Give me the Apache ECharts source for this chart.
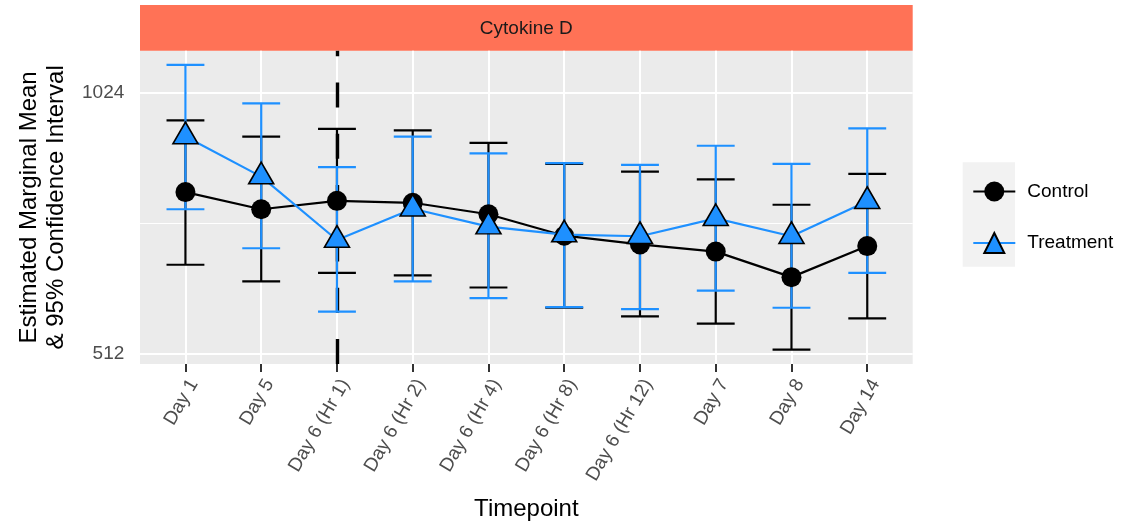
<!DOCTYPE html>
<html>
<head>
<meta charset="utf-8">
<script src="https://cdn.jsdelivr.net/npm/echarts@6/dist/echarts.min.js"></script>
<style>
  html, body { margin: 0; padding: 0; background: #ffffff; }
  #chart { width: 1137px; height: 526px; }
</style>
</head>
<body>
<div id="chart"></div>
<script>
// Timepoints on the x axis
const categories = ['Day 1', 'Day 5', 'Day 6 (Hr 1)', 'Day 6 (Hr 2)', 'Day 6 (Hr 4)',
  'Day 6 (Hr 8)', 'Day 6 (Hr 12)', 'Day 7', 'Day 8', 'Day 14'];

// Estimated marginal means with 95% CI bounds, Control group
const controlMean  = [787, 752, 769, 765, 742, 701, 685, 672, 628, 682];
const controlLower = [649, 621, 635, 631, 611, 579, 566, 555, 518, 563];
const controlUpper = [952, 912, 931, 927, 897, 848, 831, 814, 761, 826];

// Estimated marginal means with 95% CI bounds, Treatment group
const treatMean  = [912, 820, 693, 753, 718, 703, 700, 734, 700, 768];
const treatLower = [752, 678, 573, 621, 594, 580, 577, 606, 579, 635];
const treatUpper = [1103, 996, 841, 912, 872, 850, 846, 890, 848, 932];

// Labelled y breaks (log2 scale) and the minor break between them
const yBreaks = [512, 1024];
const yMinorBreaks = [724.08];

// Timepoint marked by the dashed reference line
const markedTimepoint = 'Day 6 (Hr 1)';

const FONT = '"Liberation Sans", Arial, Helvetica, sans-serif';
const BLACK = '#000000';
const BLUE = '#1E90FF';

const idx = categories.map((_, i) => i);
const yMin = 498.7, yMax = 1145.4;

function errorBars(name, lower, upper, color, z) {
  return {
    type: 'custom',
    name: name,
    z: z,
    silent: true,
    data: lower.map((l, i) => [i, l, upper[i]]),
    encode: { x: 0, y: [1, 2] },
    renderItem: function (params, api) {
      const i = api.value(0);
      const hi = api.coord([i, api.value(2)]);
      const lo = api.coord([i, api.value(1)]);
      const xl = api.coord([i - 0.25, api.value(2)])[0];
      const xr = api.coord([i + 0.25, api.value(2)])[0];
      const seg = (x1, y1, x2, y2) => ({
        type: 'line',
        shape: { x1: x1, y1: y1, x2: x2, y2: y2 },
        style: { stroke: color, lineWidth: 2.2, fill: null }
      });
      return {
        type: 'group',
        children: [
          seg(hi[0], hi[1], lo[0], lo[1]),
          seg(xl, hi[1], xr, hi[1]),
          seg(xl, lo[1], xr, lo[1])
        ]
      };
    }
  };
}

const gridLines = [];
idx.forEach(i => gridLines.push({ xAxis: i, lineStyle: { color: '#ffffff', width: 2, type: 'solid' } }));
yBreaks.forEach(v => gridLines.push({ yAxis: v, lineStyle: { color: '#ffffff', width: 2, type: 'solid' } }));
yMinorBreaks.forEach(v => gridLines.push({ yAxis: v, lineStyle: { color: '#ffffff', width: 1, type: 'solid' } }));

const chart = echarts.init(document.getElementById('chart'), null, { renderer: 'canvas' });

chart.setOption({
  animation: false,
  textStyle: { fontFamily: FONT },
  grid: {
    left: 140, right: 224.3, top: 50.7, bottom: 159.3,
    show: true, backgroundColor: '#EBEBEB', borderWidth: 0
  },
  graphic: [
    { type: 'rect', left: 140, top: 5, shape: { width: 772.7, height: 45.7 }, style: { fill: '#FF7256' }, silent: true },
    { type: 'text', x: 526.3, y: 28.5, style: { text: 'Cytokine D', fill: '#1A1A1A', font: '19px ' + FONT, align: 'center', verticalAlign: 'middle' }, silent: true },
    { type: 'rect', left: 962.7, top: 162.3, shape: { width: 52.3, height: 104.4 }, style: { fill: '#F2F2F2' }, silent: true, z: -1 }
  ],
  legend: {
    orient: 'vertical',
    left: 967.3,
    top: 176.5,
    itemWidth: 42,
    itemHeight: 25,
    itemGap: 30.5,
    selectedMode: false,
    data: ['Control', 'Treatment'],
    textStyle: { fontSize: 19, color: '#000000', fontFamily: FONT, padding: [0, 0, 0, 7] }
  },
  xAxis: {
    type: 'value',
    min: -0.6,
    max: 9.6,
    axisLine: { show: false },
    splitLine: { show: false },
    axisTick: { show: true, length: 8, lineStyle: { color: '#333333', width: 2 }, customValues: idx },
    axisLabel: {
      customValues: idx,
      formatter: v => categories[Math.round(v)],
      rotate: 60,
      align: 'right',
      verticalAlign: 'top',
      margin: 12,
      fontSize: 19,
      color: '#4D4D4D',
      fontFamily: FONT
    },
    name: 'Timepoint',
    nameLocation: 'middle',
    nameGap: 133,
    nameTextStyle: { fontSize: 24, color: '#000000', fontFamily: FONT }
  },
  yAxis: {
    type: 'log',
    logBase: 2,
    min: yMin,
    max: yMax,
    axisLine: { show: false },
    splitLine: { show: false },
    minorSplitLine: { show: false },
    axisTick: { show: true, length: 8, lineStyle: { color: '#333333', width: 2 }, customValues: yBreaks },
    axisLabel: {
      customValues: yBreaks,
      formatter: v => String(Math.round(v)),
      margin: 15.7,
      fontSize: 19,
      color: '#4D4D4D',
      fontFamily: FONT
    },
    name: 'Estimated Marginal Mean\n& 95% Confidence Interval',
    nameLocation: 'middle',
    nameRotate: 90,
    nameGap: 70,
    nameTextStyle: { fontSize: 24, lineHeight: 27, color: '#000000', fontFamily: FONT, align: 'center' }
  },
  series: [
    {
      type: 'line', name: 'grid', data: [], z: 1, silent: true,
      markLine: { z: 1, silent: true, symbol: 'none', label: { show: false }, emphasis: { disabled: true }, animation: false, data: gridLines }
    },
    {
      type: 'line', name: 'marker', data: [], z: 2, silent: true,
      markLine: {
        z: 2, silent: true, symbol: 'none', label: { show: false }, emphasis: { disabled: true }, animation: false,
        data: [{ xAxis: categories.indexOf(markedTimepoint), lineStyle: { color: BLACK, width: 3.4, type: [25, 26.3] } }]
      }
    },
    errorBars('Control CI', controlLower, controlUpper, BLACK, 3),
    errorBars('Treatment CI', treatLower, treatUpper, BLUE, 4),
    {
      type: 'line', name: 'Control', z: 5,
      data: controlMean.map((v, i) => [i, v]),
      symbol: 'circle', symbolSize: 20,
      itemStyle: { color: BLACK },
      lineStyle: { color: BLACK, width: 2.2 },
      emphasis: { disabled: true }
    },
    {
      type: 'line', name: 'Treatment', z: 6,
      data: treatMean.map((v, i) => [i, v]),
      symbol: 'triangle', symbolSize: [25, 21.6], symbolOffset: [0, -3.6],
      itemStyle: { color: BLUE, borderColor: BLACK, borderWidth: 1.6 },
      lineStyle: { color: BLUE, width: 2.2 },
      emphasis: { disabled: true }
    }
  ]
});
</script>
</body>
</html>
